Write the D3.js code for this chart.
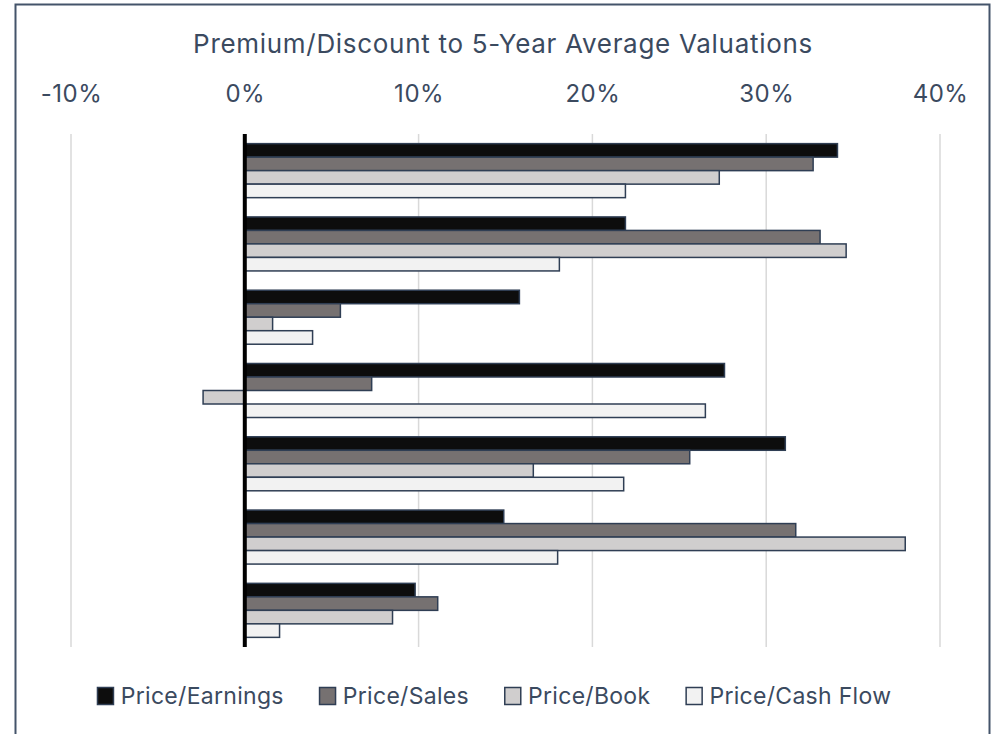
<!DOCTYPE html>
<html>
<head>
<meta charset="utf-8">
<script src="https://cdn.jsdelivr.net/npm/d3@7"></script>
<style>
  body { margin: 0; background: #fff; }
  svg text { font-family: Inter, Lato, sans-serif; fill: #3b4a5f; }
</style>
</head>
<body>
<div id="chart"></div>
<script>
// data (values in %)
const categories = ["Group 1", "Group 2", "Group 3", "Group 4", "Group 5", "Group 6", "Group 7"];
const seriesNames = ["Price/Earnings", "Price/Sales", "Price/Book", "Price/Cash Flow"];
const priceEarnings = [34.1, 21.9, 15.8, 27.6, 31.1, 14.9, 9.8];
const priceSales = [32.7, 33.1, 5.5, 7.3, 25.6, 31.7, 11.1];
const priceBook = [27.3, 34.6, 1.6, -2.4, 16.6, 38.0, 8.5];
const priceCashFlow = [21.9, 18.1, 3.9, 26.5, 21.8, 18.0, 2.0];
const tickValues = [-10, 0, 10, 20, 30, 40];

const seriesValues = [priceEarnings, priceSales, priceBook, priceCashFlow];
const colors = ["#0d0d0d", "#767171", "#d0cece", "#f2f2f2"];

const width = 993, height = 734;

const svg = d3.select("#chart")
  .append("svg")
  .attr("width", width)
  .attr("height", height);

// outer frame
svg.append("rect")
  .attr("x", 15.5).attr("y", 4.5)
  .attr("width", 974).attr("height", 760)
  .attr("fill", "none")
  .attr("stroke", "#44546a")
  .attr("stroke-width", 2);

// title
svg.append("text")
  .attr("x", 503).attr("y", 53)
  .attr("text-anchor", "middle")
  .style("font-size", "26px")
  .style("letter-spacing", "0.7px")
  .text("Premium/Discount to 5-Year Average Valuations");

const x = d3.scaleLinear().domain([-10, 40]).range([71, 940]);

const y = d3.scaleBand()
  .domain(categories)
  .range([134, 647])
  .paddingInner(0.263)
  .paddingOuter(0.1315);

const ySub = d3.scaleBand()
  .domain(seriesNames)
  .range([0, y.bandwidth()]);

// gridlines
svg.append("g")
  .selectAll("line")
  .data(tickValues.filter(d => d !== 0))
  .join("line")
  .attr("x1", d => x(d)).attr("x2", d => x(d))
  .attr("y1", 134).attr("y2", 647)
  .attr("stroke", "#d9d9d9")
  .attr("stroke-width", 1.5);

// top axis labels
const axis = d3.axisTop(x)
  .tickValues(tickValues)
  .tickFormat(d => d + "%")
  .tickSize(0)
  .tickPadding(0);

const axisG = svg.append("g")
  .attr("transform", "translate(0,102)")
  .call(axis);
axisG.select(".domain").remove();
axisG.selectAll("text")
  .attr("dy", 0)
  .style("font-size", "24px")
  .style("letter-spacing", "0.5px")
  .style("font-family", "Inter, Lato, sans-serif")
  .attr("fill", "#3b4a5f");

// bars
const groups = svg.append("g")
  .selectAll("g")
  .data(categories)
  .join("g")
  .attr("transform", d => "translate(0," + y(d) + ")");

groups.selectAll("rect")
  .data((c, i) => seriesNames.map((s, j) => ({ series: s, idx: j, value: seriesValues[j][i] })))
  .join("rect")
  .attr("x", d => x(Math.min(0, d.value)))
  .attr("y", d => ySub(d.series))
  .attr("width", d => Math.abs(x(d.value) - x(0)))
  .attr("height", ySub.bandwidth())
  .attr("fill", d => colors[d.idx])
  .attr("stroke", "#2f3e54")
  .attr("stroke-width", 1.5);

// zero line
svg.append("line")
  .attr("x1", x(0)).attr("x2", x(0))
  .attr("y1", 134).attr("y2", 647)
  .attr("stroke", "#000")
  .attr("stroke-width", 4);

// legend
const legend = svg.append("g");
let lx = 0;
seriesNames.forEach((name, i) => {
  const item = legend.append("g").attr("transform", "translate(" + lx + ",0)");
  item.append("rect")
    .attr("x", 0.75).attr("y", 687.5)
    .attr("width", 16).attr("height", 17)
    .attr("fill", colors[i])
    .attr("stroke", "#2f3e54")
    .attr("stroke-width", 1.5);
  const t = item.append("text")
    .attr("x", 24).attr("y", 704)
    .style("font-size", "23px")
    .style("letter-spacing", "0.3px")
    .text(name);
  lx += 24 + t.node().getComputedTextLength() + 35;
});
const legendWidth = lx - 35;
legend.attr("transform", "translate(" + (494 - legendWidth / 2) + ",0)");
</script>
</body>
</html>
